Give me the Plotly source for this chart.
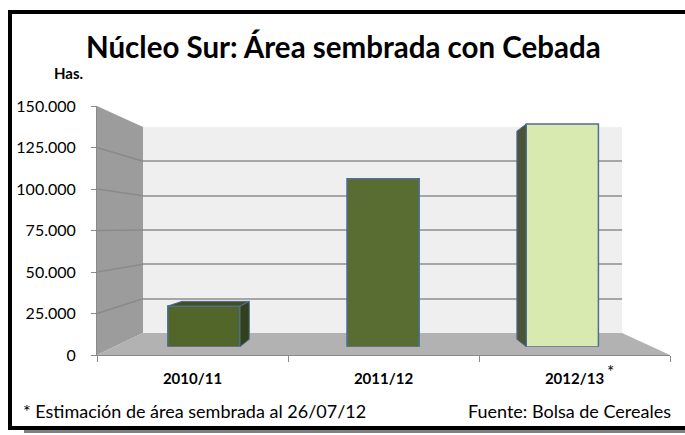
import plotly.graph_objects as go

# ---------------- data ----------------
categories = ["2010/11", "2011/12", "2012/13"]
values = [26200, 108200, 143500]
y_ticks = [0, 25000, 50000, 75000, 100000, 125000, 150000]
front_colors = ["#536629", "#596d33", "#d8eab0"]
side_colors = ["#34401b", "#3e4b22", "#4b533a"]
top_colors = ["#414f22", "#4a5a28", "#c9dc9c"]

W, H = 685, 435
FONT = "Lato"


def px(x):
    return x / W


def py(y):
    return 1 - y / H


# geometry of the pseudo-3D box (pixels)
FRONT_L, FRONT_R, FRONT_B, FRONT_T = 97, 670, 355, 106
BACK_L, BACK_R, BACK_B, BACK_T = 143, 622, 333, 127
BAR_L, BAR_R, BAR_B, BAR_T = 114.3, 651.9, 346.7, 113.9
YMAX = 150000

fig = go.Figure()

# back wall subplot (x / y): gridlines only
fig.add_trace(go.Scatter(x=[0], y=[0], mode="markers", marker=dict(opacity=0),
                         xaxis="x", yaxis="y", showlegend=False, hoverinfo="skip"))

# front axis subplot (x2 / y2): tick labels & axis lines
fig.add_trace(go.Scatter(x=categories, y=[0, 0, 0], mode="markers", marker=dict(opacity=0),
                         xaxis="x2", yaxis="y2", showlegend=False, hoverinfo="skip"))

# bars subplot (x3 / y3)
pos = list(range(len(categories)))
half = 0.2015
K = 0.065
VPX = 1.0
VPY = (BAR_B - 234) / (BAR_B - BAR_T) * YMAX


def back(x, y):
    return x + K * (VPX - x), y + K * (VPY - y)


for i, v in enumerate(values):
    xl, xr = pos[i] - half, pos[i] + half
    bl = back(xl, v)
    br = back(xr, v)
    bbl = back(xl, 0)
    bbr = back(xr, 0)
    if VPX > xr + 1e-9:
        fig.add_trace(go.Scatter(x=[xr, xr, br[0], bbr[0], xr], y=[0, v, br[1], bbr[1], 0],
                                 fill="toself", fillcolor=side_colors[i], mode="lines",
                                 line=dict(color="#4f6f96", width=1), xaxis="x3", yaxis="y3",
                                 showlegend=False, hoverinfo="skip"))
    if VPX < xl - 1e-9:
        fig.add_trace(go.Scatter(x=[xl, xl, bl[0], bbl[0], xl], y=[0, v, bl[1], bbl[1], 0],
                                 fill="toself", fillcolor=side_colors[i], mode="lines",
                                 line=dict(color="#4f6f96", width=1), xaxis="x3", yaxis="y3",
                                 showlegend=False, hoverinfo="skip"))
    if VPY > v:
        fig.add_trace(go.Scatter(x=[xl, xr, br[0], bl[0], xl], y=[v, v, br[1], bl[1], v],
                                 fill="toself", fillcolor=top_colors[i], mode="lines",
                                 line=dict(color="#4f6f96", width=1), xaxis="x3", yaxis="y3",
                                 showlegend=False, hoverinfo="skip"))

fig.add_trace(go.Bar(x=pos, y=values, width=2 * half,
                     marker=dict(color=front_colors, line=dict(color="#4f6f96", width=1.5)),
                     xaxis="x3", yaxis="y3", showlegend=False, hoverinfo="skip"))

# ---------------- decorative walls ----------------
shapes = []
shapes.append(dict(type="rect", xref="paper", yref="paper", layer="below",
                   x0=px(BACK_L), x1=px(BACK_R), y0=py(BACK_B), y1=py(BACK_T),
                   fillcolor="#efefef", line=dict(width=0)))
shapes.append(dict(type="path", xref="paper", yref="paper", layer="below",
                   path=f"M {px(FRONT_L)} {py(FRONT_T)} L {px(BACK_L)} {py(BACK_T)} "
                        f"L {px(BACK_L)} {py(BACK_B)} L {px(FRONT_L)} {py(FRONT_B)} Z",
                   fillcolor="#9c9c9c", line=dict(width=0)))
shapes.append(dict(type="path", xref="paper", yref="paper", layer="below",
                   path=f"M {px(FRONT_L)} {py(FRONT_B)} L {px(BACK_L)} {py(BACK_B)} "
                        f"L {px(BACK_R)} {py(BACK_B)} L {px(FRONT_R)} {py(FRONT_B)} Z",
                   fillcolor="#b2b2b2", line=dict(width=0)))
for t in y_ticks[1:-1]:
    yf = FRONT_B - (FRONT_B - FRONT_T) * t / YMAX
    yb = BACK_B - (BACK_B - BACK_T) * t / YMAX
    shapes.append(dict(type="line", xref="paper", yref="paper", layer="below",
                       x0=px(FRONT_L), x1=px(BACK_L), y0=py(yf), y1=py(yb),
                       line=dict(color="#8a8a8a", width=1.5)))
shapes.append(dict(type="line", xref="paper", yref="paper", layer="above",
                   x0=px(24), x1=px(700), y0=py(431.5), y1=py(431.5),
                   line=dict(color="#808080", width=3)))
shapes.append(dict(type="rect", xref="paper", yref="paper", layer="above",
                   x0=px(10), x1=px(705), y0=py(428), y1=py(12),
                   line=dict(color="black", width=4)))

annotations = [
    dict(text="<b>Núcleo Sur: Área sembrada con Cebada</b>", x=px(343), y=py(46),
         xref="paper", yref="paper", showarrow=False, xanchor="center", yanchor="middle",
         font=dict(family=FONT, size=29.5, color="black")),
    dict(text="<b>Has.</b>", x=px(68), y=py(73), xref="paper", yref="paper",
         showarrow=False, xanchor="center", yanchor="middle",
         font=dict(family=FONT, size=15, color="black")),
    dict(text="*", x=px(610), y=py(371), xref="paper", yref="paper",
         showarrow=False, xanchor="center", yanchor="middle",
         font=dict(family=FONT, size=17, color="black")),
    dict(text="* Estimación de área sembrada al 26/07/12", x=px(21), y=py(411),
         xref="paper", yref="paper", showarrow=False, xanchor="left", yanchor="middle",
         font=dict(family=FONT, size=18, color="black")),
    dict(text="Fuente: Bolsa de Cereales", x=px(673), y=py(411),
         xref="paper", yref="paper", showarrow=False, xanchor="right", yanchor="middle",
         font=dict(family=FONT, size=18, color="black")),
]

fig.update_layout(
    width=W, height=H,
    autosize=False,
    margin=dict(l=0, r=0, t=0, b=0, pad=0),
    paper_bgcolor="white",
    plot_bgcolor="rgba(0,0,0,0)",
    separators=",.",
    showlegend=False,
    hovermode=False,
    font=dict(family=FONT, size=13, color="black"),
    shapes=shapes,
    annotations=annotations,
    xaxis=dict(domain=[px(BACK_L), px(BACK_R)], range=[0, 1], visible=False, fixedrange=True),
    yaxis=dict(domain=[py(BACK_B), py(BACK_T)], range=[0, YMAX], tickvals=y_ticks,
               showgrid=True, gridcolor="#a6a6a6", gridwidth=1.5, zeroline=False,
               showticklabels=False, ticks="", showline=False, anchor="x", fixedrange=True),
    xaxis2=dict(domain=[px(FRONT_L), px(FRONT_R)], type="category", range=[-0.5, 2.5],
                categoryorder="array", categoryarray=categories,
                tickvals=categories, ticktext=[f"<b>{c}</b>" for c in categories],
                tickson="boundaries", ticks="outside", ticklen=6, tickcolor="#8a8a8a",
                showline=True, linecolor="#8a8a8a", linewidth=1, showgrid=False,
                zeroline=False, anchor="y2", ticklabelstandoff=10, automargin=False,
                tickfont=dict(family=FONT, size=15, color="black"), fixedrange=True),
    yaxis2=dict(domain=[py(FRONT_B), py(FRONT_T)], range=[0, YMAX], tickvals=y_ticks,
                tickformat=",d", ticks="outside", ticklen=5, tickcolor="#8a8a8a",
                showline=True, linecolor="#8a8a8a", linewidth=1, showgrid=False,
                zeroline=False, anchor="x2", ticklabelstandoff=12, automargin=False,
                tickfont=dict(family=FONT, size=16, color="black"), fixedrange=True),
    xaxis3=dict(domain=[px(BAR_L), px(BAR_R)], range=[-0.5, 2.5], visible=False,
                anchor="y3", fixedrange=True),
    yaxis3=dict(domain=[py(BAR_B), py(BAR_T)], range=[0, YMAX], visible=False,
                anchor="x3", fixedrange=True),
)

fig.write_html("out.html",
               config={"displayModeBar": False},
               post_script="document.body.style.margin='0';document.body.style.overflow='hidden';")
